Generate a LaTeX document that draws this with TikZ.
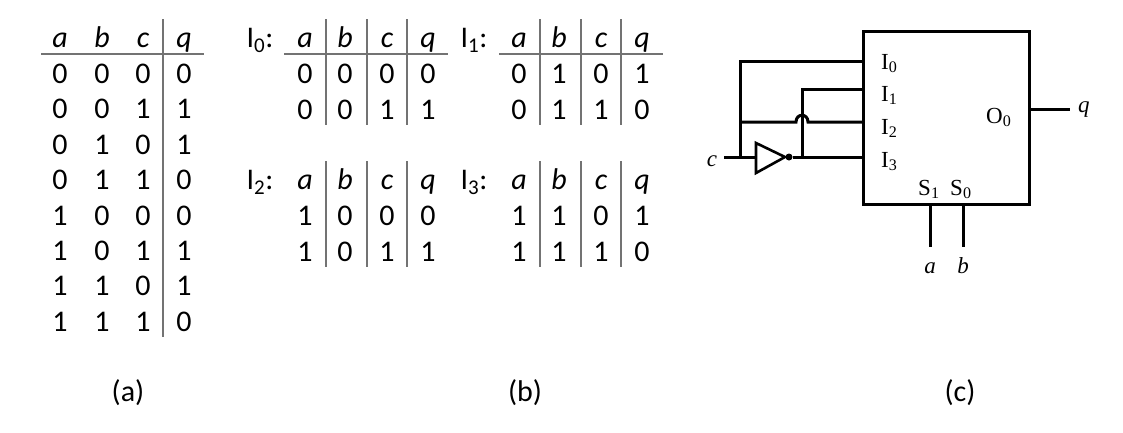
\documentclass[tikz,border=0pt]{standalone}
\usepackage{fontspec}
\setmainfont{Carlito}
\newfontfamily\circserif{Liberation Serif}
\newcommand\tabfont{\fontsize{30}{36}\selectfont}
\newcommand\circfont{\circserif\fontsize{23}{27}\selectfont}
\newcommand\sub[1]{\textsubscript{#1}}
% #1 shift, #2 name prefix, #3 subscript, #4 row 1, #5 row 2
\newcommand\btable[5]{%
  \begin{scope}[shift={#1}]
    \node[cell] (#2-lab) at (260,47.5) {I\textsubscript{#3}:};
    \foreach \t [count=\i] in {a,b,c,q} {
      \pgfmathsetmacro\xx{{305,345,387,428}[\i-1]}
      \node[cell] (#2-h\i) at (\xx,47.5) {\itshape\t};
    }
    \foreach \v [count=\i] in {#4} {
      \pgfmathsetmacro\xx{{305,345,387,428}[\i-1]}
      \node[cell] (#2-r1-\i) at (\xx,83.5) {\v};
    }
    \foreach \v [count=\i] in {#5} {
      \pgfmathsetmacro\xx{{305,345,387,428}[\i-1]}
      \node[cell] (#2-r2-\i) at (\xx,119) {\v};
    }
    \foreach \x in {326,367,407} \draw[tl] (\x,19) -- (\x,125);
  \end{scope}}
\begin{document}
\begin{tikzpicture}[x=1pt,y=-1pt,
  tl/.style={draw=black!55, line width=1.5pt},
  cell/.style={anchor=base, inner sep=0pt, font=\tabfont},
  wire/.style={line width=3pt},
  clab/.style={anchor=base west, inner sep=0pt, font=\circfont},
  mlab/.style={anchor=base, inner sep=0pt, font=\circfont}]
\useasboundingbox (0,0) rectangle (1123,432);

% ---------- table (a)
\foreach \t [count=\i] in {a,b,c,q} {
  \pgfmathsetmacro\xx{{60,102,143,184}[\i-1]}
  \node[cell] (a-h\i) at (\xx,47.5) {\itshape\t};
}
\foreach \vals [count=\k] in {{0,0,0,0},{0,0,1,1},{0,1,0,1},{0,1,1,0},{1,0,0,0},{1,0,1,1},{1,1,0,1},{1,1,1,0}} {
  \foreach \v [count=\i] in \vals {
    \pgfmathsetmacro\xx{{60,102,143,184}[\i-1]}
    \pgfmathsetmacro\yy{48+35.4*\k}
    \node[cell] (a-\k-\i) at (\xx,\yy) {\v};
  }
}
\draw[tl] (41,54) -- (204,54);
\draw[tl] (163,19) -- (163,337);

% ---------- tables (b)
\btable{(0,0)}{b0}{0}{0,0,0,0}{0,0,1,1}
\btable{(214,0)}{b1}{1}{0,1,0,1}{0,1,1,0}
\btable{(0,142)}{b2}{2}{1,0,0,0}{1,0,1,1}
\btable{(214,142)}{b3}{3}{1,1,0,1}{1,1,1,0}
\draw[tl] (284,54) -- (448,54);
\draw[tl] (499,54) -- (663,54);

% ---------- captions
\node[cell] (capa) at (128,401) {(a)};
\node[cell] (capb) at (525,401) {(b)};
\node[cell] (capc) at (960,401) {(c)};

% ---------- circuit (c)
\node[draw, line width=3pt, minimum width=166pt, minimum height=173pt, inner sep=0pt] (mux) at (946,117.5) {};
\coordinate (p0) at (863,61);
\coordinate (p1) at (863,89);
\coordinate (p2) at (863,122);
\coordinate (p3) at (863,157);
\coordinate (cin) at (724,157);
\coordinate (j1) at (740,157);
\coordinate (j2) at (740,122);
\coordinate (j3) at (802,157);
\coordinate (hopL) at (796,122);
\coordinate (hopR) at (808,122);
\coordinate (bufL) at (756,157);
\coordinate (bufT) at (756,143);
\coordinate (bufB) at (756,173);
\coordinate (bufO) at (785,157);
\coordinate (pout) at (1029,109);
\coordinate (qend) at (1070,109);
\coordinate (sa) at (930,204);
\coordinate (sae) at (930,247);
\coordinate (sb) at (963,204);
\coordinate (sbe) at (963,247);

\draw[line width=2.6pt, line join=miter] (bufT) -- (bufO) -- (bufB) -- cycle;
\node[circle, fill, inner sep=0pt, minimum size=7pt] (dot) at (789,157) {};
\draw[wire] (cin) -- (bufL);
\draw[wire, line join=miter] (j1) |- (p0);
\draw[wire] (dot) -- (p3);
\draw[wire, line join=miter] (j3) |- (p1);
\draw[wire] (j2) -- (hopL) .. controls +(0,-9) and +(0,-9) .. (hopR) -- (p2);
\draw[wire] (pout) -- (qend);
\draw[wire] (sa) -- (sae);
\draw[wire] (sb) -- (sbe);

\node[clab] (lI0) at (881,69) {I\sub{0}};
\node[clab] (lI1) at (881,101) {I\sub{1}};
\node[clab] (lI2) at (881,134) {I\sub{2}};
\node[clab] (lI3) at (881,167) {I\sub{3}};
\node[clab] (lO0) at (986,123) {O\sub{0}};
\node[clab] (lS1) at (918,195) {S\sub{1}};
\node[clab] (lS0) at (950,195) {S\sub{0}};
\node[mlab] (la) at (930,273) {\itshape a};
\node[mlab] (lb) at (963,273) {\itshape b};
\node[mlab] (lc) at (712,166) {\itshape c};
\node[clab] (lq) at (1078,112) {\itshape q};
\end{tikzpicture}
\end{document}
